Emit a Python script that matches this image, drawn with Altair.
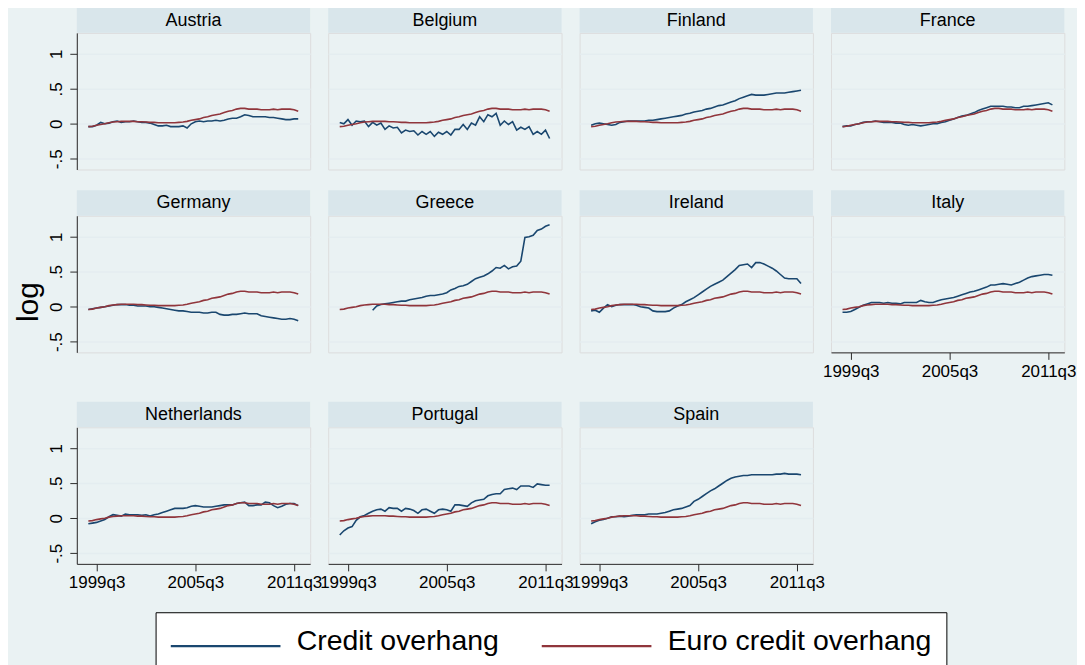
import altair as alt
import pandas as pd

FONT = "Liberation Sans"

COUNTRIES = ["Austria", "Belgium", "Finland", "France",
             "Germany", "Greece", "Ireland", "Italy",
             "Netherlands", "Portugal", "Spain"]

FIRST_Q = 156  # 1999q1 as a Stata quarterly index

austria = [-0.04, -0.04, -0.02, 0.02, 0.0, 0.01, 0.03, 0.04, 0.02, 0.03, 0.03, 0.04, 0.03,
           0.02, 0.02, 0.01, -0.01, -0.03, -0.03, -0.02, -0.04, -0.04, -0.04, -0.03, -0.06,
           0.0, 0.03, 0.04, 0.03, 0.04, 0.04, 0.05, 0.04, 0.05, 0.07, 0.08, 0.08, 0.10, 0.13,
           0.12, 0.10, 0.10, 0.10, 0.10, 0.09, 0.09, 0.08, 0.07, 0.06, 0.06, 0.07, 0.07]
belgium = [0.02, 0.0, 0.06, -0.02, 0.04, 0.03, 0.04, -0.04, 0.02, -0.02, 0.01, -0.08, -0.03,
           -0.06, -0.05, -0.13, -0.09, -0.11, -0.10, -0.16, -0.11, -0.15, -0.11, -0.18, -0.12,
           -0.15, -0.11, -0.16, -0.08, -0.08, -0.01, -0.08, 0.01, -0.02, 0.10, 0.03, 0.13, 0.10,
           0.15, -0.02, 0.04, -0.01, 0.03, -0.09, -0.05, -0.08, -0.04, -0.15, -0.11, -0.15,
           -0.09, -0.21]
finland = [-0.02, 0.0, 0.01, 0.0, -0.01, -0.02, -0.01, 0.02, 0.03, 0.04, 0.04, 0.04, 0.04,
           0.04, 0.05, 0.05, 0.06, 0.07, 0.08, 0.09, 0.10, 0.11, 0.12, 0.14, 0.15, 0.17, 0.18,
           0.19, 0.21, 0.22, 0.24, 0.26, 0.27, 0.29, 0.31, 0.33, 0.36, 0.38, 0.40, 0.42, 0.41,
           0.41, 0.41, 0.42, 0.43, 0.44, 0.44, 0.44, 0.45, 0.46, 0.47, 0.48]
france = [-0.04, -0.03, -0.03, -0.01, 0.0, 0.02, 0.03, 0.03, 0.04, 0.03, 0.02, 0.02, 0.02,
          0.01, 0.01, -0.01, -0.02, -0.01, -0.02, -0.03, -0.02, -0.01, 0.0, 0.0, 0.02, 0.03,
          0.05, 0.07, 0.09, 0.11, 0.12, 0.14, 0.16, 0.19, 0.21, 0.23, 0.25, 0.25, 0.25, 0.25,
          0.24, 0.24, 0.23, 0.23, 0.25, 0.25, 0.26, 0.27, 0.28, 0.29, 0.30, 0.27]
germany = [-0.04, -0.03, -0.02, -0.01, 0.0, 0.01, 0.02, 0.03, 0.03, 0.03, 0.02, 0.02, 0.01,
           0.01, 0.01, 0.0, 0.0, -0.01, -0.02, -0.03, -0.04, -0.05, -0.06, -0.06, -0.07, -0.08,
           -0.08, -0.08, -0.09, -0.09, -0.08, -0.08, -0.11, -0.12, -0.12, -0.11, -0.11, -0.10,
           -0.09, -0.10, -0.10, -0.10, -0.13, -0.14, -0.15, -0.16, -0.17, -0.18, -0.18, -0.17,
           -0.18, -0.20]
greece = [None, None, None, None, None, None, None, None, -0.05, 0.01, 0.03, 0.04, 0.05,
          0.06, 0.07, 0.08, 0.08, 0.10, 0.11, 0.12, 0.13, 0.15, 0.16, 0.16, 0.17, 0.18, 0.20,
          0.24, 0.26, 0.29, 0.30, 0.32, 0.36, 0.40, 0.42, 0.44, 0.47, 0.51, 0.56, 0.55, 0.59,
          0.54, 0.57, 0.58, 0.65, 0.99, 1.00, 1.02, 1.09, 1.11, 1.15, 1.17]
ireland = [-0.06, -0.05, -0.08, -0.02, 0.03, 0.0, 0.02, 0.03, 0.03, 0.03, 0.03, 0.02, 0.0,
           -0.01, -0.02, -0.06, -0.07, -0.07, -0.07, -0.06, -0.02, 0.01, 0.03, 0.07, 0.10,
           0.13, 0.17, 0.21, 0.25, 0.29, 0.32, 0.35, 0.38, 0.43, 0.48, 0.53, 0.59, 0.60, 0.61,
           0.56, 0.63, 0.63, 0.61, 0.58, 0.55, 0.51, 0.46, 0.41, 0.40, 0.40, 0.40, 0.33]
italy = [-0.08, -0.08, -0.07, -0.04, -0.01, 0.02, 0.04, 0.06, 0.06, 0.06, 0.05, 0.06, 0.05,
         0.05, 0.04, 0.06, 0.06, 0.06, 0.06, 0.09, 0.07, 0.06, 0.06, 0.08, 0.10, 0.11, 0.12,
         0.13, 0.15, 0.17, 0.19, 0.21, 0.22, 0.24, 0.26, 0.28, 0.31, 0.31, 0.32, 0.33, 0.32,
         0.31, 0.33, 0.35, 0.38, 0.41, 0.43, 0.44, 0.45, 0.46, 0.46, 0.45]
netherlands = [-0.08, -0.07, -0.06, -0.04, -0.02, 0.02, 0.05, 0.04, 0.03, 0.06, 0.05, 0.05,
               0.05, 0.04, 0.05, 0.03, 0.05, 0.06, 0.08, 0.10, 0.12, 0.14, 0.14, 0.14, 0.15,
               0.17, 0.18, 0.17, 0.16, 0.16, 0.16, 0.17, 0.18, 0.19, 0.19, 0.19, 0.21, 0.22,
               0.23, 0.18, 0.18, 0.19, 0.19, 0.23, 0.22, 0.18, 0.15, 0.17, 0.20, 0.21, 0.21, 0.18]
portugal = [-0.24, -0.18, -0.14, -0.12, -0.03, 0.02, 0.04, 0.07, 0.10, 0.12, 0.13, 0.10, 0.15,
            0.14, 0.14, 0.10, 0.14, 0.13, 0.11, 0.07, 0.12, 0.13, 0.10, 0.07, 0.12, 0.13, 0.12,
            0.10, 0.19, 0.19, 0.18, 0.17, 0.22, 0.25, 0.26, 0.27, 0.32, 0.34, 0.35, 0.35, 0.41,
            0.42, 0.43, 0.41, 0.46, 0.46, 0.46, 0.44, 0.49, 0.48, 0.47, 0.47]
spain = [-0.08, -0.05, -0.03, -0.02, 0.0, 0.02, 0.02, 0.03, 0.02, 0.03, 0.04, 0.05, 0.05, 0.05,
         0.06, 0.06, 0.06, 0.07, 0.08, 0.10, 0.12, 0.13, 0.14, 0.16, 0.18, 0.24, 0.27, 0.31,
         0.35, 0.39, 0.42, 0.46, 0.50, 0.54, 0.57, 0.59, 0.60, 0.61, 0.61, 0.62, 0.62, 0.62,
         0.62, 0.62, 0.62, 0.63, 0.63, 0.64, 0.63, 0.63, 0.63, 0.62]
euro = [-0.04, -0.035, -0.02, -0.01, 0.0, 0.015, 0.025, 0.03, 0.035, 0.035, 0.035, 0.035, 0.03,
        0.03, 0.025, 0.02, 0.02, 0.015, 0.015, 0.015, 0.015, 0.015, 0.02, 0.025, 0.035, 0.05,
        0.06, 0.07, 0.09, 0.10, 0.12, 0.13, 0.14, 0.16, 0.18, 0.19, 0.21, 0.22, 0.22, 0.21,
        0.21, 0.21, 0.20, 0.20, 0.20, 0.21, 0.20, 0.21, 0.21, 0.21, 0.20, 0.18]

CREDIT = dict(zip(COUNTRIES, [austria, belgium, finland, france, germany, greece, ireland,
                              italy, netherlands, portugal, spain]))

SERIES = ["Credit overhang", "Euro credit overhang"]
COLORS = ["#1A476F", "#90353B"]

YTICKS = [-0.5, 0, 0.5, 1]
YTICK_LABELS = ["-.5", "0", ".5", "1"]
XTICKS = [158, 182, 206]
XTICK_LABELS = ["1999q3", "2005q3", "2011q3"]

XDOM = [153.2, 209.9]
YDOM = [-0.653, 1.30]

BG = "#EAF2F3"
STRIP = "#D9E6EB"
GRID = "#E4EDF0"
AX = "#2b2b2b"

W, H = 234, 137
STRIP_H = 25.6

rows = []
for c in COUNTRIES:
    for i, v in enumerate(CREDIT[c]):
        if v is not None:
            rows.append({"country": c, "t": FIRST_Q + i, "value": v, "series": SERIES[0]})
    for i, v in enumerate(euro):
        rows.append({"country": c, "t": FIRST_Q + i, "value": v, "series": SERIES[1]})
df = pd.DataFrame(rows)


def label_expr(vals, labels):
    parts = [f"abs(datum.value - ({v})) < 1e-6 ? '{l}'" for v, l in zip(vals, labels)]
    return " : ".join(parts) + " : ''"


YLAB = label_expr(YTICKS, YTICK_LABELS)
XLAB = label_expr(XTICKS, XTICK_LABELS)

# key line: a custom path from -r to 7r (r = sqrt(size)/2) gives a long key line
LEGEND = alt.Legend(
    title=None, orient="none", legendX=79, legendY=581, direction="horizontal", columns=2,
    symbolType="M-1,0.35H7", symbolSize=756, symbolStrokeWidth=2.2,
    labelFont=FONT, labelFontSize=28.5, labelColor="black", labelLimit=0,
    labelOffset=97.5, columnPadding=37, padding=14,
    strokeColor="black", fillColor="white",
)


def panel(name, col, show_x, show_log):
    sub = df[df.country == name]
    if col == 0:
        yaxis = alt.Axis(
            values=YTICKS, labelExpr=YLAB, labelAngle=270, labelFont=FONT, labelFontSize=17,
            labelColor="black", labelPadding=4, tickSize=7, tickColor=AX, tickWidth=1,
            domainColor=AX, domainWidth=1, grid=True, gridColor=GRID, gridWidth=1.5,
            title="log" if show_log else " ", titleFont=FONT, titleFontSize=30,
            titleFontWeight="normal", titleColor="black", titlePadding=4.5, titleY=86,
        )
    else:
        yaxis = alt.Axis(values=YTICKS, labels=False, ticks=False, domain=False, grid=True,
                         gridColor=GRID, gridWidth=1.5, title=None)
    if show_x:
        xaxis = alt.Axis(
            values=XTICKS, labelExpr=XLAB, labelAngle=0, labelFont=FONT, labelFontSize=17,
            labelColor="black", labelPadding=4, tickSize=7, tickColor=AX, tickWidth=1,
            domainColor=AX, domainWidth=1, grid=False, title=None, labelOverlap=False,
            labelFlush=False,
        )
    else:
        xaxis = None

    lines = alt.Chart(sub).mark_line(strokeWidth=1.6, clip=True).encode(
        x=alt.X("t:Q", scale=alt.Scale(domain=XDOM, nice=False, zero=False), axis=xaxis),
        y=alt.Y("value:Q", scale=alt.Scale(domain=YDOM, nice=False, zero=False), axis=yaxis),
        color=alt.Color("series:N", scale=alt.Scale(domain=SERIES, range=COLORS), legend=LEGEND),
    )
    strip_df = pd.DataFrame({"country": [name]})
    rect = alt.Chart(strip_df).mark_rect(color=STRIP, clip=False).encode(
        x=alt.value(0), x2=alt.value(W), y=alt.value(-STRIP_H), y2=alt.value(0)
    )
    txt = alt.Chart(strip_df).mark_text(
        font=FONT, fontSize=18, color="black", baseline="middle", align="center"
    ).encode(text="country:N", x=alt.value(W / 2), y=alt.value(-STRIP_H / 2 + 0.5))
    return alt.layer(rect, txt, lines).properties(width=W, height=H)


row1 = alt.hconcat(
    panel("Austria", 0, False, False), panel("Belgium", 1, False, False),
    panel("Finland", 2, False, False), panel("France", 3, False, False),
    spacing=18.1, bounds="flush",
)
row2 = alt.hconcat(
    panel("Germany", 0, False, True), panel("Greece", 1, False, False),
    panel("Ireland", 2, False, False), panel("Italy", 3, True, False),
    spacing=18.1, bounds="flush",
)
row3 = alt.hconcat(
    panel("Netherlands", 0, True, False), panel("Portugal", 1, True, False),
    panel("Spain", 2, True, False),
    spacing=18.1, bounds="flush",
)

top_rows = alt.vconcat(row1, row2, spacing=18.4)
chart = alt.vconcat(top_rows, row3, spacing=20.5).properties(
    padding={"left": 4, "top": -3, "right": 0, "bottom": 0}, background=BG
).configure_view(fill="white", stroke="transparent").configure(font=FONT)

chart.save("out.html", embed_options={"renderer": "svg", "actions": False})
